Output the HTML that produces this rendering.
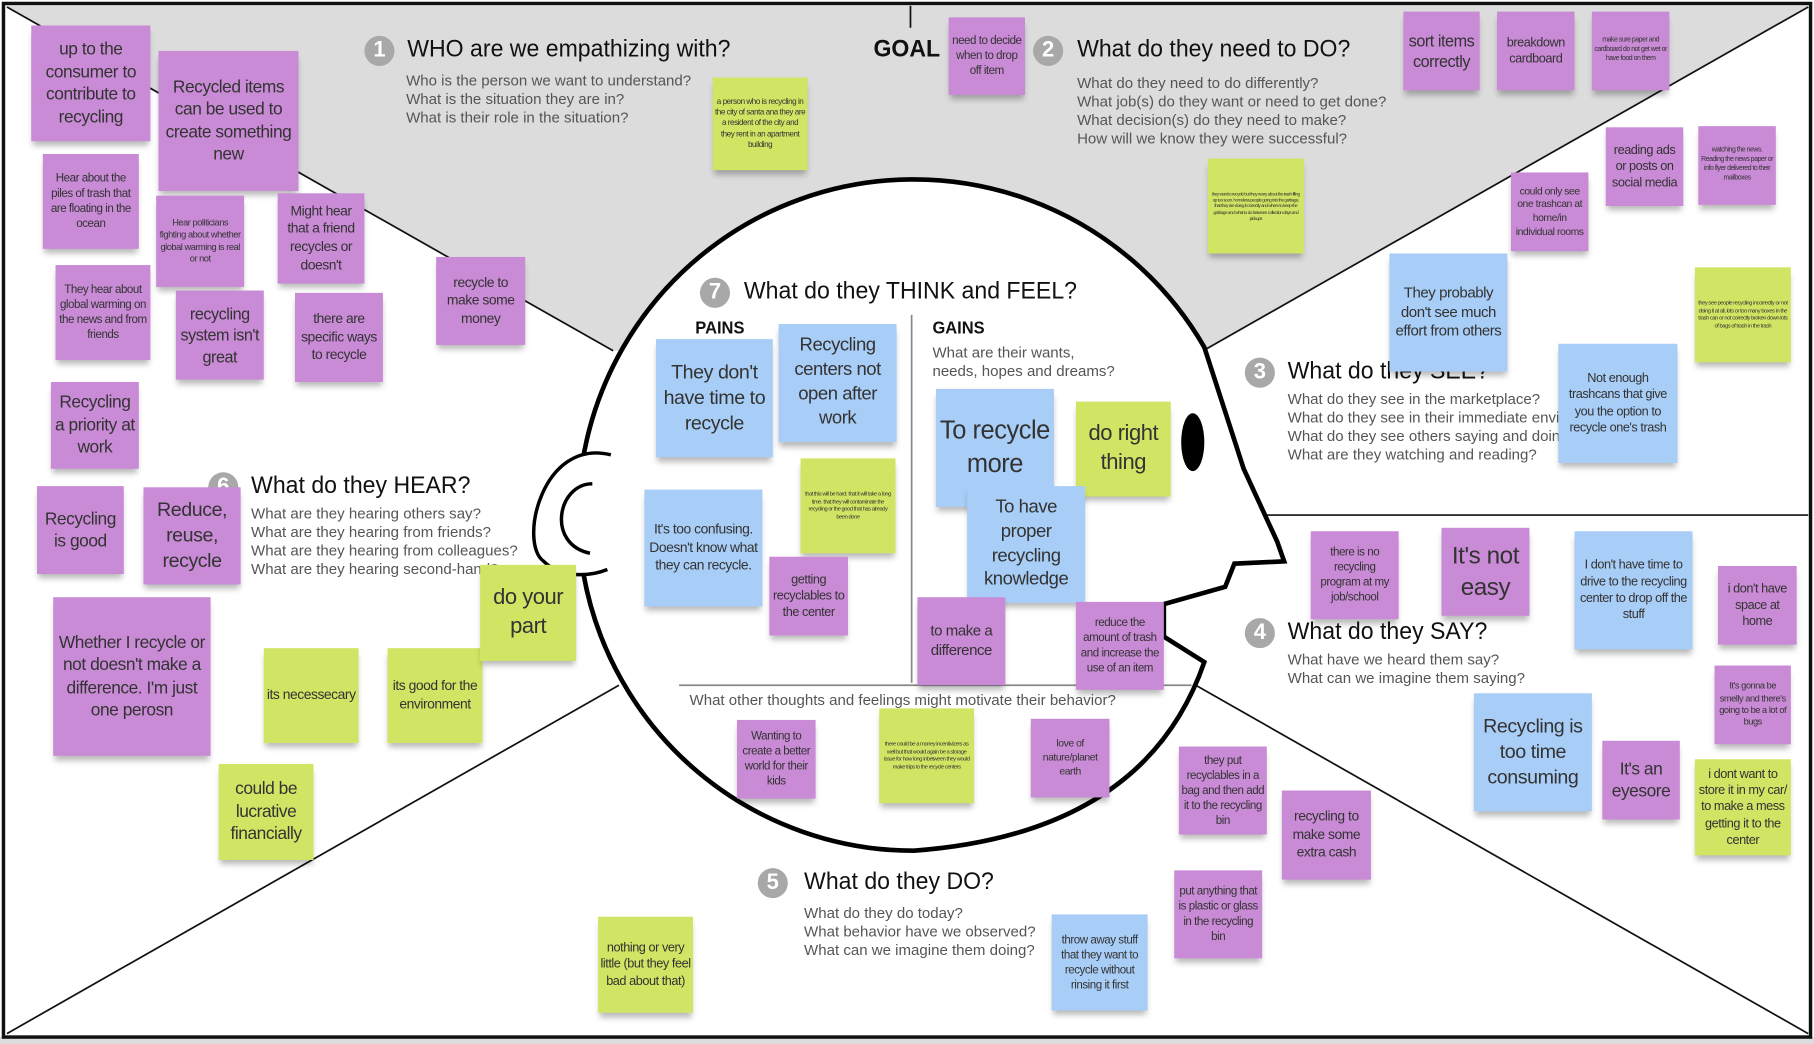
<!DOCTYPE html>
<html><head><meta charset="utf-8">
<style>
html,body{margin:0;padding:0;background:#fff;}
body{width:1814px;height:1044px;overflow:hidden;position:relative;}
#c{position:absolute;left:0;top:0;width:1568px;height:902px;transform-origin:0 0;transform:scale(1.15689,1.15743);font-family:"Liberation Sans Narrow","Liberation Sans",sans-serif;}
.n{position:absolute;display:flex;align-items:center;justify-content:center;text-align:center;color:#333;box-shadow:0 5px 5px -1px rgba(0,0,0,0.28);line-height:1.3;padding:2px;box-sizing:border-box;overflow:hidden;letter-spacing:-0.4px;}
.p{background:#c98ad6;}
.g{background:#d2e463;}
.b{background:#a8cdf6;}
.t{position:absolute;font-size:21px;color:#111;white-space:nowrap;transform:scaleX(0.95);transform-origin:0 0;}
.q{position:absolute;font-size:13px;color:#555;line-height:16px;white-space:nowrap;font-family:"Liberation Sans",sans-serif;}
.num{position:absolute;width:26px;height:26px;border-radius:50%;background:#a8a8a8;color:#fff;font-size:19px;font-weight:bold;text-align:center;line-height:26px;}
</style></head><body><div id="c">
<svg width="1568" height="902" style="position:absolute;left:0;top:0">
<rect x="0" y="896" width="1568" height="6" fill="#ddd"/>
<polygon points="5,5 530,303 1040,303 1563,5" fill="#dcdcdc"/>
<line x1="6" y1="6" x2="530" y2="303" stroke="#111" stroke-width="1.5"/>
<line x1="1040" y1="303" x2="1563" y2="6" stroke="#111" stroke-width="1.5"/>
<line x1="6" y1="893" x2="535" y2="592" stroke="#111" stroke-width="1.5"/>
<line x1="1030" y1="590" x2="1563" y2="893" stroke="#111" stroke-width="1.5"/>
<line x1="1088" y1="445" x2="1563" y2="445" stroke="#111" stroke-width="1.5"/>
<line x1="787" y1="5" x2="787" y2="24" stroke="#111" stroke-width="1.5"/>
<rect x="3" y="3" width="1562" height="893" fill="none" stroke="#111" stroke-width="3"/>
<path d="M1041,300 L1075,405 L1104,468 L1110,485 L1067,487 L1059,507 L1006,522 L1006,550 L1041,572 Q990,720 790,735 A290,290 0 1 1 1041,300 Z" fill="#fff" stroke="#000" stroke-width="4" stroke-linejoin="miter"/>
<path d="M528,393 C468,378 448,470 470,485 C485,500 510,498 525,492" fill="#fff" stroke="#000" stroke-width="3"/>
<path d="M512,418 C482,418 472,470 510,478" fill="none" stroke="#000" stroke-width="3"/>
<ellipse cx="1031" cy="382" rx="10" ry="25" fill="#000"/>
<line x1="788" y1="272" x2="788" y2="590" stroke="#888" stroke-width="1.5"/>
<line x1="587" y1="592" x2="1030" y2="592" stroke="#888" stroke-width="1.5"/>
</svg>

<div class="num" style="left:315px;top:31px">1</div>
<div class="t" style="left:352px;top:31px">WHO are we empathizing with?</div>
<div class="q" style="left:351px;top:62px">Who is the person we want to understand?<br>What is the situation they are in?<br>What is their role in the situation?</div>
<div class="t" style="left:755px;top:31px;font-weight:bold">GOAL</div>
<div class="num" style="left:893px;top:31px">2</div>
<div class="t" style="left:931px;top:31px">What do they need to DO?</div>
<div class="q" style="left:931px;top:64px">What do they need to do differently?<br>What job(s) do they want or need to get done?<br>What decision(s) do they need to make?<br>How will we know they were successful?</div>
<div class="num" style="left:605px;top:240px">7</div>
<div class="t" style="left:643px;top:240px">What do they THINK and FEEL?</div>
<div class="t" style="left:601px;top:275px;font-size:15px;font-weight:bold">PAINS</div>
<div class="t" style="left:806px;top:275px;font-size:15px;font-weight:bold">GAINS</div>
<div class="q" style="left:806px;top:297px">What are their wants,<br>needs, hopes and dreams?</div>
<div class="num" style="left:1076px;top:309px">3</div>
<div class="t" style="left:1113px;top:309px">What do they SEE?</div>
<div class="q" style="left:1113px;top:337px">What do they see in the marketplace?<br>What do they see in their immediate environment?<br>What do they see others saying and doing?<br>What are they watching and reading?</div>
<div class="num" style="left:180px;top:408px">6</div>
<div class="t" style="left:217px;top:408px">What do they HEAR?</div>
<div class="q" style="left:217px;top:436px">What are they hearing others say?<br>What are they hearing from friends?<br>What are they hearing from colleagues?<br>What are they hearing second-hand?</div>
<div class="num" style="left:1076px;top:534px">4</div>
<div class="t" style="left:1113px;top:534px">What do they SAY?</div>
<div class="q" style="left:1113px;top:562px">What have we heard them say?<br>What can we imagine them saying?</div>
<div class="num" style="left:655px;top:750px">5</div>
<div class="t" style="left:695px;top:750px">What do they DO?</div>
<div class="q" style="left:695px;top:781px">What do they do today?<br>What behavior have we observed?<br>What can we imagine them doing?</div>
<div class="q" style="left:596px;top:597px">What other thoughts and feelings might motivate their behavior?</div>

<div class="n p" style="left:27px;top:22px;width:103px;height:100px;font-size:15px">up to the consumer to contribute to recycling</div>
<div class="n p" style="left:137px;top:44px;width:121px;height:121px;font-size:15px">Recycled items can be used to create something new</div>
<div class="n p" style="left:37px;top:133px;width:83px;height:82px;font-size:10px">Hear about the piles of trash that are floating in the ocean</div>
<div class="n p" style="left:135px;top:169px;width:76px;height:79px;font-size:8px">Hear politicians fighting about whether global warming is real or not</div>
<div class="n p" style="left:240px;top:167px;width:75px;height:78px;font-size:12px">Might hear that a friend recycles or doesn't</div>
<div class="n p" style="left:48px;top:229px;width:82px;height:82px;font-size:10px">They hear about global warming on the news and from friends</div>
<div class="n p" style="left:152px;top:251px;width:76px;height:77px;font-size:14px">recycling system isn't great</div>
<div class="n p" style="left:255px;top:253px;width:76px;height:77px;font-size:12px">there are specific ways to recycle</div>
<div class="n p" style="left:377px;top:222px;width:77px;height:76px;font-size:12px">recycle to make some money</div>
<div class="n p" style="left:44px;top:330px;width:76px;height:75px;font-size:15px">Recycling a priority at work</div>
<div class="n p" style="left:32px;top:420px;width:75px;height:76px;font-size:15px">Recycling is good</div>
<div class="n p" style="left:124px;top:421px;width:84px;height:84px;font-size:17px">Reduce, reuse, recycle</div>
<div class="n p" style="left:46px;top:516px;width:136px;height:137px;font-size:15px">Whether I recycle or not doesn't make a difference. I'm just one perosn</div>
<div class="n g" style="left:228px;top:560px;width:82px;height:82px;font-size:12px">its necessecary</div>
<div class="n g" style="left:335px;top:560px;width:82px;height:82px;font-size:12px">its good for the environment</div>
<div class="n g" style="left:415px;top:488px;width:83px;height:83px;font-size:19px">do your part</div>
<div class="n g" style="left:189px;top:660px;width:82px;height:83px;font-size:15px">could be lucrative financially</div>
<div class="n g" style="left:616px;top:67px;width:82px;height:80px;font-size:7px">a person who is recycling in the city of santa ana they are a resident of the city and they rent in an apartment building</div>
<div class="n p" style="left:820px;top:15px;width:66px;height:67px;font-size:10px">need to decide when to drop off item</div>
<div class="n p" style="left:1213px;top:10px;width:66px;height:68px;font-size:14px">sort items correctly</div>
<div class="n p" style="left:1294px;top:10px;width:67px;height:68px;font-size:11px">breakdown cardboard</div>
<div class="n p" style="left:1376px;top:10px;width:67px;height:68px;font-size:6px">make sure paper and cardboard do not get wet or have food on them</div>
<div class="n g" style="left:1044px;top:137px;width:83px;height:82px;font-size:4px">they want to recycle but they worry about the trash filling up too soon. homeless people going into the garbage, that they are doing it correctly and where to keep the garbage and what to do between collection days and pickups</div>
<div class="n p" style="left:1306px;top:149px;width:67px;height:68px;font-size:9px">could only see one trashcan at home/in individual rooms</div>
<div class="n p" style="left:1388px;top:110px;width:67px;height:68px;font-size:11px">reading ads or posts on social media</div>
<div class="n p" style="left:1468px;top:109px;width:67px;height:68px;font-size:6px">watching the news. Reading the news paper or info flyer delivered to their mailboxes</div>
<div class="n b" style="left:1201px;top:219px;width:102px;height:102px;font-size:13px">They probably don't see much effort from others</div>
<div class="n g" style="left:1465px;top:231px;width:83px;height:82px;font-size:5px">they see people recycling incorrectly or not doing it at all, lots or too many boxes in the trash can or not correctly broken down lots of bags of trash in the trash</div>
<div class="n b" style="left:1347px;top:297px;width:103px;height:103px;font-size:11px">Not enough trashcans that give you the option to recycle one's trash</div>
<div class="n b" style="left:567px;top:293px;width:101px;height:102px;font-size:17px">They don't have time to recycle</div>
<div class="n b" style="left:673px;top:280px;width:102px;height:102px;font-size:16px">Recycling centers not open after work</div>
<div class="n g" style="left:692px;top:396px;width:82px;height:82px;font-size:5px">that this will be hard. that it will take a long time. that they will contaminate the recycling or the good that has already been done</div>
<div class="n b" style="left:557px;top:423px;width:102px;height:101px;font-size:12px">It's too confusing. Doesn't know what they can recycle.</div>
<div class="n p" style="left:665px;top:481px;width:68px;height:68px;font-size:11px">getting recyclables to the center</div>
<div class="n b" style="left:809px;top:336px;width:102px;height:102px;font-size:22px">To recycle more</div>
<div class="n g" style="left:930px;top:347px;width:82px;height:82px;font-size:19px">do right thing</div>
<div class="n b" style="left:836px;top:420px;width:102px;height:101px;font-size:16px">To have proper recycling knowledge</div>
<div class="n p" style="left:793px;top:516px;width:76px;height:76px;font-size:13px">to make a difference</div>
<div class="n p" style="left:930px;top:520px;width:76px;height:76px;font-size:10px">reduce the amount of trash and increase the use of an item</div>
<div class="n p" style="left:637px;top:622px;width:68px;height:68px;font-size:10px">Wanting to create a better world for their kids</div>
<div class="n g" style="left:760px;top:612px;width:82px;height:82px;font-size:5px">there could be a money incentivizers as well but that would again be a storage issue for how long inbetween they would make trips to the recycle centers</div>
<div class="n p" style="left:891px;top:621px;width:68px;height:68px;font-size:9px">love of nature/planet earth</div>
<div class="n p" style="left:1133px;top:459px;width:76px;height:76px;font-size:10px">there is no recycling program at my job/school</div>
<div class="n p" style="left:1246px;top:456px;width:76px;height:76px;font-size:21px">It's not easy</div>
<div class="n b" style="left:1361px;top:459px;width:102px;height:102px;font-size:11px">I don't have time to drive to the recycling center to drop off the stuff</div>
<div class="n p" style="left:1485px;top:489px;width:68px;height:68px;font-size:11px">i don't have space at home</div>
<div class="n p" style="left:1482px;top:575px;width:66px;height:68px;font-size:8px">It's gonna be smelly and there's going to be a lot of bugs</div>
<div class="n b" style="left:1274px;top:599px;width:102px;height:102px;font-size:17px">Recycling is too time consuming</div>
<div class="n p" style="left:1385px;top:640px;width:67px;height:68px;font-size:15px">It's an eyesore</div>
<div class="n g" style="left:1465px;top:656px;width:83px;height:83px;font-size:11px">i dont want to store it in my car/ to make a mess getting it to the center</div>
<div class="n p" style="left:1019px;top:645px;width:76px;height:76px;font-size:10px">they put recyclables in a bag and then add it to the recycling bin</div>
<div class="n p" style="left:1108px;top:683px;width:77px;height:77px;font-size:12px">recycling to make some extra cash</div>
<div class="n p" style="left:1015px;top:752px;width:76px;height:76px;font-size:10px">put anything that is plastic or glass in the recycling bin</div>
<div class="n b" style="left:909px;top:790px;width:83px;height:83px;font-size:10px">throw away stuff that they want to recycle without rinsing it first</div>
<div class="n g" style="left:517px;top:792px;width:82px;height:83px;font-size:11px">nothing or very little (but they feel bad about that)</div>
</div></body></html>
